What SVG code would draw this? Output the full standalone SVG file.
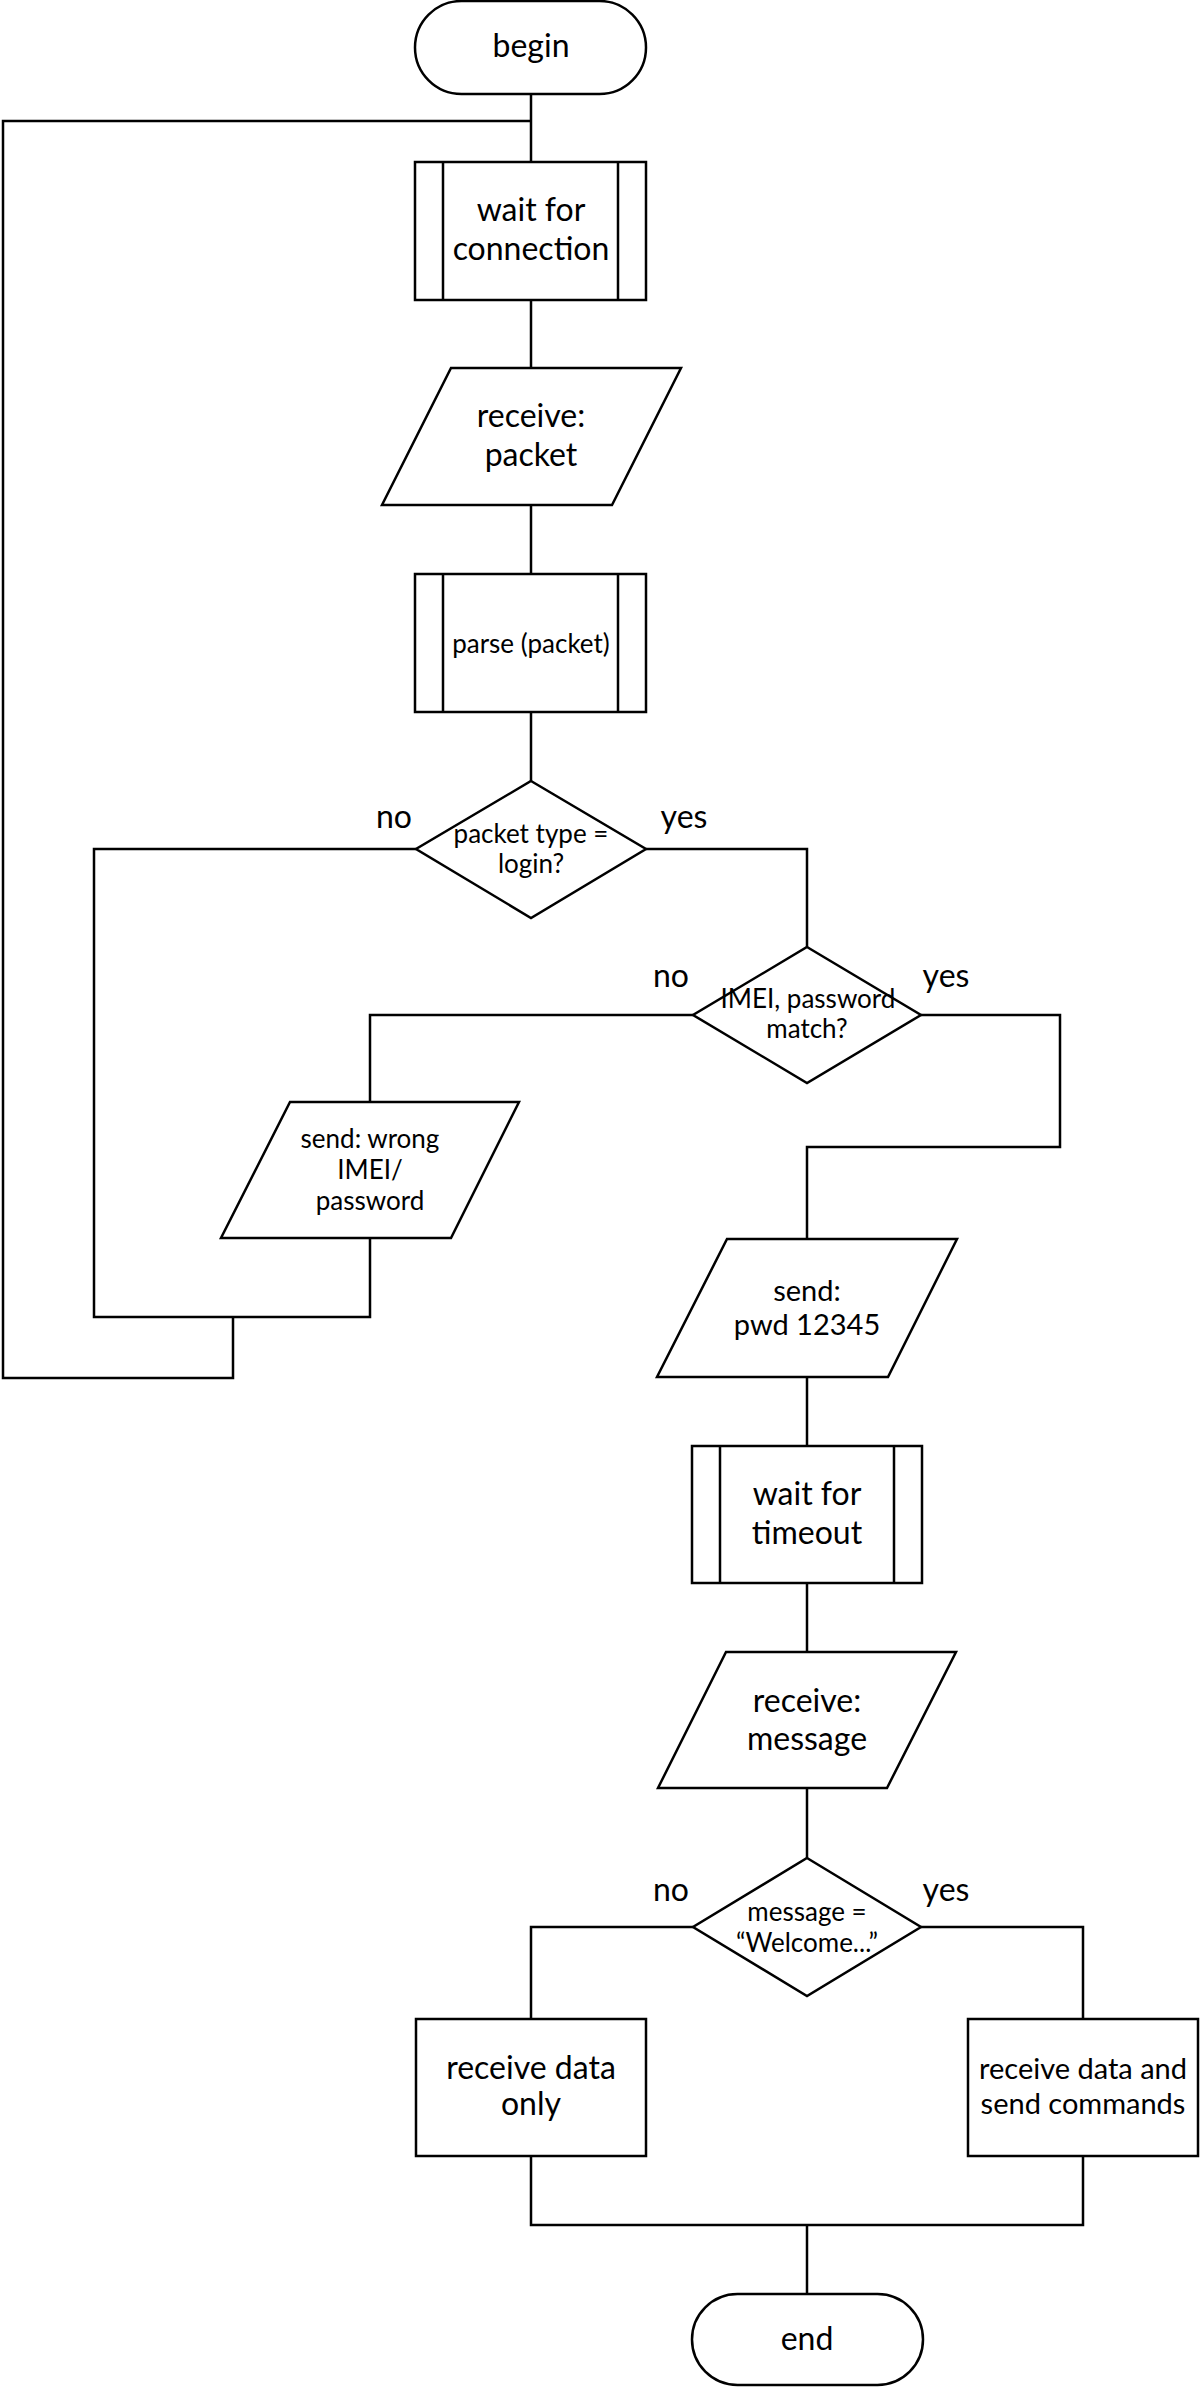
<svg xmlns="http://www.w3.org/2000/svg" width="1200" height="2387" viewBox="0 0 1200 2387">
<style>
.s{fill:#fff;stroke:#000;stroke-width:2.5;stroke-linejoin:miter}
.c{fill:none;stroke:#000;stroke-width:2.5;stroke-linejoin:miter}
.t{font-family:Lato,"Open Sans","Liberation Sans",sans-serif;fill:#000;text-anchor:middle}
.L{font-size:32px}
.M{font-size:29px}
.S{font-size:26px}
.l{font-family:Lato,"Open Sans","Liberation Sans",sans-serif;fill:#000;text-anchor:middle;font-size:32px}
</style>
<rect width="1200" height="2387" fill="#fff"/>
<g id="connectors">
<path class="c" d="M531,94 V162"/>
<path class="c" d="M233,1317 V1378 H3 V121 H531"/>
<path class="c" d="M531,300 V368"/>
<path class="c" d="M531,505 V574"/>
<path class="c" d="M531,712 V781"/>
<path class="c" d="M416,849 H94 V1317 H370 V1238"/>
<path class="c" d="M646,849 H807 V947"/>
<path class="c" d="M693,1015 H370 V1102"/>
<path class="c" d="M921,1015 H1060 V1147 H807 V1239"/>
<path class="c" d="M807,1377 V1446"/>
<path class="c" d="M807,1583 V1652"/>
<path class="c" d="M807,1788 V1858"/>
<path class="c" d="M693,1927 H531 V2019"/>
<path class="c" d="M921,1927 H1083 V2019"/>
<path class="c" d="M531,2156 V2225 H1083 V2156"/>
<path class="c" d="M807,2225 V2294"/>
<text class="l" x="394" y="828">no</text>
<text class="l" x="684" y="828">yes</text>
<text class="l" x="671" y="987">no</text>
<text class="l" x="946" y="987">yes</text>
<text class="l" x="671" y="1901">no</text>
<text class="l" x="946" y="1901">yes</text>
</g>
<g id="begin">
<rect class="s" x="415" y="1" width="231" height="93" rx="46.5"/>
<text class="t L" x="531" y="57">begin</text>
</g>
<g id="wait-connection">
<rect class="s" x="415" y="162" width="231" height="138"/>
<path class="c" d="M443,162 V300 M618,162 V300"/>
<text class="t L" x="531" y="221">wait for</text>
<text class="t L" x="531" y="260">connection</text>
</g>
<g id="receive-packet">
<polygon class="s" points="451,368 681,368 612,505 382,505"/>
<text class="t L" x="531" y="427">receive:</text>
<text class="t L" x="531" y="466">packet</text>
</g>
<g id="parse">
<rect class="s" x="415" y="574" width="231" height="138"/>
<path class="c" d="M443,574 V712 M618,574 V712"/>
<text class="t S" x="531" y="653">parse (packet)</text>
</g>
<g id="packet-type">
<polygon class="s" points="531,781 646,849 531,918 416,849"/>
<text class="t S" x="531" y="843">packet type =</text>
<text class="t S" x="531" y="873">login?</text>
</g>
<g id="imei-match">
<polygon class="s" points="807,947 921,1015 807,1083 693,1015"/>
<text class="t S" x="808" y="1008">IMEI, password</text>
<text class="t S" x="807" y="1038">match?</text>
</g>
<g id="send-wrong">
<polygon class="s" points="290,1102 519,1102 451,1238 221,1238"/>
<text class="t S" x="370" y="1148">send: wrong</text>
<text class="t S" x="370" y="1179">IMEI/</text>
<text class="t S" x="370" y="1210">password</text>
</g>
<g id="send-pwd">
<polygon class="s" points="727,1239 957,1239 888,1377 657,1377"/>
<text class="t M" x="807" y="1301">send:</text>
<text class="t M" x="807" y="1335">pwd 12345</text>
</g>
<g id="wait-timeout">
<rect class="s" x="692" y="1446" width="230" height="137"/>
<path class="c" d="M720,1446 V1583 M894,1446 V1583"/>
<text class="t L" x="807" y="1505">wait for</text>
<text class="t L" x="807" y="1544">timeout</text>
</g>
<g id="receive-message">
<polygon class="s" points="726,1652 956,1652 887,1788 658,1788"/>
<text class="t L" x="807" y="1712">receive:</text>
<text class="t L" x="807" y="1750">message</text>
</g>
<g id="message-welcome">
<polygon class="s" points="807,1858 921,1927 807,1996 693,1927"/>
<text class="t S" x="807" y="1921">message =</text>
<text class="t S" x="807" y="1952">“Welcome...”</text>
</g>
<g id="receive-only">
<rect class="s" x="416" y="2019" width="230" height="137"/>
<text class="t L" x="531" y="2079">receive data</text>
<text class="t L" x="531" y="2115">only</text>
</g>
<g id="receive-send">
<rect class="s" x="968" y="2019" width="230" height="137"/>
<text class="t M" x="1083" y="2079">receive data and</text>
<text class="t M" x="1083" y="2114">send commands</text>
</g>
<g id="end">
<rect class="s" x="692" y="2294" width="231" height="91" rx="45.5"/>
<text class="t L" x="807" y="2350">end</text>
</g>
</svg>
